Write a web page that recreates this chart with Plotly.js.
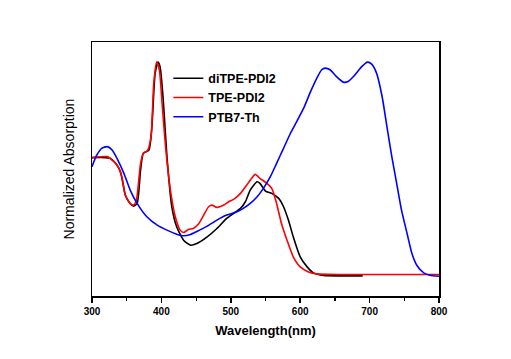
<!DOCTYPE html>
<html><head><meta charset="utf-8">
<script src="https://cdn.plot.ly/plotly-3.0.1.min.js"></script>
<style>html,body{margin:0;padding:0;background:#fff}</style>
</head><body><div id="chart" style="width:511px;height:359px"></div>
<script>
// Wavelength (nm) and normalized absorption values
const diWl = [300,319,326,334,341,348,353,360,365,370,374,382,386,391,395,398,403,408,415,422,432,442,451,466,480,494,504,514,521,528,538,542,550,559,569,576,583,590,600,610,619,634,662,690];
const diPx = [383,383,385,400,425,495,515,528,520,420,370,360,300,130,97,110,220,380,530,590,630,645,640,620,595,565,550,535,515,480,455,460,483,490,505,530,570,620,680,710,728,736,737,737];
const tpWl = [300,322,326,336,343,348,355,360,364,370,374,380,385,389,393,397,401,406,413,420,427,432,439,446,454,461,468,473,480,490,497,504,514,523,530,535,542,552,559,566,573,581,590,600,612,624,662,800];
const tpPx = [383,380,385,405,440,495,520,525,510,400,370,362,320,160,97,120,220,350,480,560,600,607,598,595,580,555,530,525,532,525,515,508,490,465,445,433,445,460,475,520,580,630,680,710,725,731,733,733];
const ptWl = [300,307,314,322,329,336,346,355,365,379,394,408,422,432,442,451,466,480,494,509,518,528,538,547,557,566,576,586,595,605,614,624,631,636,643,652,662,669,679,689,697,703,710,718,725,732,739,746,754,761,768,778,787,800];
const ptPx = [410,375,355,350,360,385,430,480,520,560,585,600,612,617,613,604,588,570,555,545,535,520,500,475,440,400,355,310,275,235,190,145,120,115,120,140,157,155,135,110,97,103,130,200,290,380,460,540,610,670,705,728,735,738];
const names = ['diTPE-PDI2','TPE-PDI2','PTB7-Th'];
const colors = ['#000000','#ff0000','#0000ff'];
const toVal = a => a.map(p => (737 - p) / 640);
const xs = [diWl, tpWl, ptWl];
const ys = [toVal(diPx), toVal(tpPx), toVal(ptPx)];
const traces = xs.map((x,i)=>({x:x, y:ys[i], name:names[i], type:'scatter', mode:'lines',
  line:{color:colors[i], width:1.6, shape:'spline', smoothing:0.6}}));
const bold = {family:'Liberation Sans, Arial, sans-serif', color:'#000', weight:'bold'};
const layout = {
  width:511, height:359,
  margin:{l:92, r:72, t:42, b:63},
  paper_bgcolor:'#fff', plot_bgcolor:'#fff',
  showlegend:true,
  legend:{x:0.22, y:0.915, xanchor:'left', yanchor:'top', bgcolor:'rgba(0,0,0,0)',
    font:Object.assign({size:12.5}, bold), tracegroupgap:0, itemwidth:30},
  xaxis:{range:[300,800], dtick:100, tick0:300, ticks:'outside', ticklen:5, tickwidth:1.5,
    tickcolor:'#000', showline:true, linecolor:'#000', linewidth:1.5, mirror:true,
    showgrid:false, zeroline:false, tickfont:Object.assign({size:10}, bold),
    minor:{dtick:50, ticks:'outside', ticklen:3, tickwidth:1.2, tickcolor:'#000'},
    title:{text:'Wavelength(nm)', font:Object.assign({size:13}, bold), standoff:10}},
  yaxis:{range:[-0.094,1.094], showticklabels:false, ticks:'', showline:true, linecolor:'#000',
    linewidth:1.5, mirror:true, showgrid:false, zeroline:false,
    title:{text:'Normalized Absorption', font:{family:'Liberation Sans, Arial, sans-serif', size:14, color:'#000'}, standoff:12}}
};
Plotly.newPlot('chart', traces, layout, {displayModeBar:false, staticPlot:true});
</script></body></html>
